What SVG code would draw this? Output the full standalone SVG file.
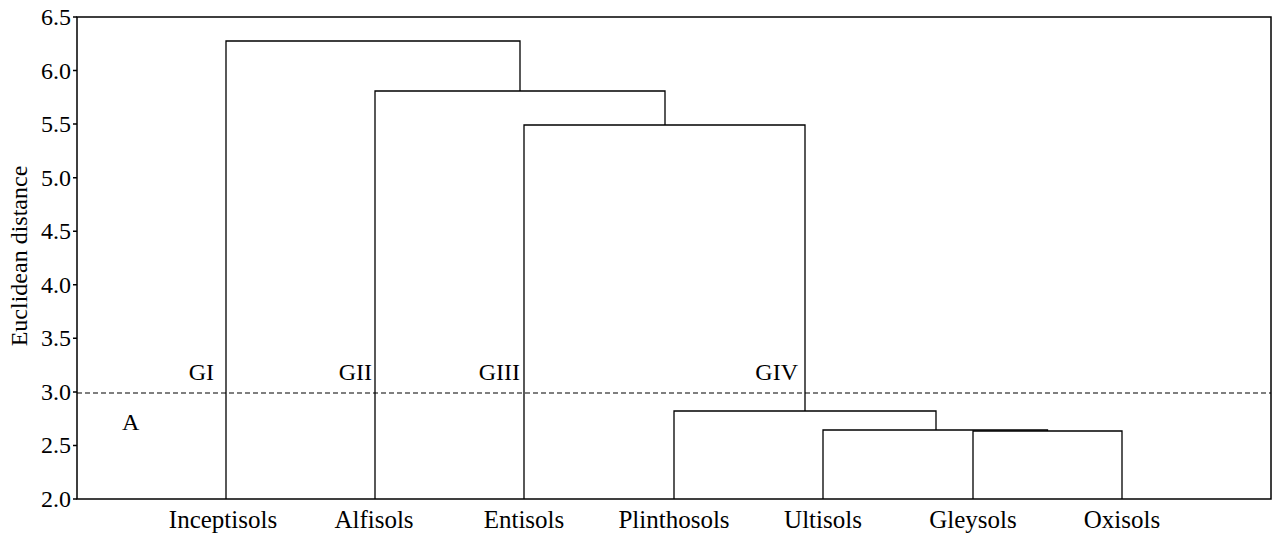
<svg xmlns="http://www.w3.org/2000/svg" width="1274" height="539" viewBox="0 0 1274 539">
<style>
text{font-family:"Liberation Serif","Times New Roman",serif;font-size:24px;fill:#000}
.ax{fill:none;stroke:#000;stroke-width:1.5}
.ln{fill:none;stroke:#000;stroke-width:1.3}
.tk{text-anchor:end}
.xl{text-anchor:middle;font-size:25px}
.gl{text-anchor:end}
</style>
<rect width="1274" height="539" fill="#fff"/>
<g id="axes">
<rect class="ax" x="77" y="17" width="1194" height="482"/>
<path class="ax" d="M73 17H77M73 70.6H77M73 124.1H77M73 177.7H77M73 231.2H77M73 284.8H77M73 338.3H77M73 391.9H77M73 445.4H77M73 499H77"/>
<text class="tk" x="71" y="25">6.5</text>
<text class="tk" x="71" y="79">6.0</text>
<text class="tk" x="71" y="132">5.5</text>
<text class="tk" x="71" y="186">5.0</text>
<text class="tk" x="71" y="239">4.5</text>
<text class="tk" x="71" y="293">4.0</text>
<text class="tk" x="71" y="346">3.5</text>
<text class="tk" x="71" y="400">3.0</text>
<text class="tk" x="71" y="453">2.5</text>
<text class="tk" x="71" y="507">2.0</text>
<text x="0" y="0" text-anchor="middle" transform="translate(27 256) rotate(-90)">Euclidean distance</text>
</g>
<g id="threshold">
<line x1="77" y1="393" x2="1271" y2="393" stroke="#000" stroke-width="1.2" stroke-dasharray="5,3"/>
<text x="122" y="430">A</text>
<text class="gl" x="214" y="380">GI</text>
<text class="gl" x="372" y="380">GII</text>
<text class="gl" x="520" y="380">GIII</text>
<text class="gl" x="798" y="380">GIV</text>
</g>
<g id="connectors">
<path class="ln" d="M226 499V41H520V91"/>
<path class="ln" d="M375 499V91H665V125"/>
<path class="ln" d="M524 499V125H805V411"/>
<path class="ln" d="M674 499V411H936V430"/>
<path class="ln" d="M823 499V430H1047.5V431"/>
<path class="ln" d="M973 499V431H1122V499"/>
</g>
<g id="leaves">
<text class="xl" x="223" y="528">Inceptisols</text>
<text class="xl" x="374" y="528">Alfisols</text>
<text class="xl" x="524" y="528">Entisols</text>
<text class="xl" x="674" y="528">Plinthosols</text>
<text class="xl" x="823" y="528">Ultisols</text>
<text class="xl" x="973" y="528">Gleysols</text>
<text class="xl" x="1122" y="528">Oxisols</text>
</g>
</svg>
